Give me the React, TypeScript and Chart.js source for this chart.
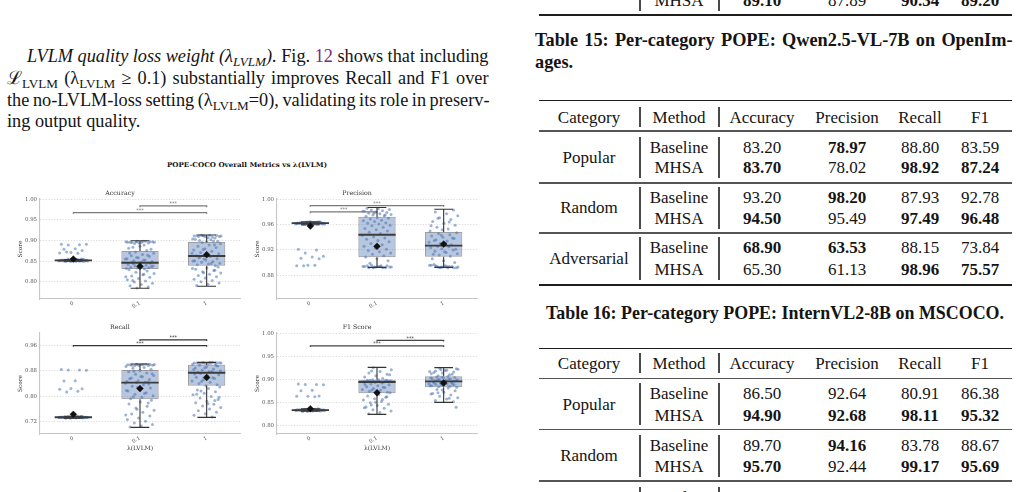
import React, { useEffect, useLayoutEffect, useRef } from "react";
import { Chart, registerables } from "chart.js";

Chart.register(...registerables);

const TEXT_FONT = "'Liberation Serif', 'DejaVu Serif', serif";
const PLOT_FONT = "'DejaVu Serif', 'Liberation Serif', serif";

// ---------------- Fig. 12: POPE-COCO overall metrics vs λ(LVLM) ----------------
const lambdaLabels = ["0", "0.1", "1"];

// Accuracy
const accuracyTicks = [0.8, 0.85, 0.9, 0.95, 1.0];
const accuracyQ1 = [0.851, 0.831, 0.839];
const accuracyMedian = [0.852, 0.846, 0.8625];
const accuracyQ3 = [0.853, 0.8745, 0.8965];
const accuracyLow = [0.85, 0.784, 0.789];
const accuracyHigh = [0.854, 0.8995, 0.9133];
const accuracyMean = [0.855, 0.8374, 0.8656];
const accuracyBrackets = [[0, 2, 0.968], [1, 2, 0.984]];
const accuracyRuns0 = [
  0.852, 0.85, 0.854, 0.852, 0.849, 0.853, 0.851, 0.85, 0.855, 0.852,
  0.853, 0.85, 0.852, 0.849, 0.851, 0.854, 0.851, 0.852, 0.855, 0.852,
  0.85, 0.853, 0.852, 0.849, 0.852, 0.854, 0.851, 0.852, 0.853, 0.851,
  0.85, 0.852, 0.853, 0.855, 0.852, 0.851, 0.853, 0.849, 0.854, 0.852,
  0.891, 0.89, 0.889, 0.891, 0.88, 0.879, 0.876, 0.871, 0.87, 0.869, 0.872,
];
const accuracyRuns01 = [
  0.897, 0.896, 0.898, 0.895, 0.897, 0.894, 0.896, 0.898, 0.893, 0.897, 0.895, 0.896, 0.894, 0.898, 0.897,
  0.889, 0.884, 0.879, 0.886, 0.881, 0.876,
  0.872, 0.869, 0.866, 0.863, 0.861, 0.858, 0.856, 0.853, 0.851, 0.849, 0.847, 0.87, 0.864, 0.859, 0.855, 0.852, 0.848,
  0.845, 0.843, 0.842, 0.84, 0.839, 0.838, 0.836, 0.835, 0.834, 0.833, 0.832, 0.831, 0.844, 0.837, 0.841,
  0.829, 0.826, 0.823, 0.82, 0.817, 0.814, 0.811, 0.808, 0.805, 0.802, 0.799, 0.796, 0.793, 0.79, 0.787, 0.785, 0.812, 0.818, 0.803,
];
const accuracyRuns1 = [
  0.912, 0.911, 0.913, 0.91, 0.912, 0.909, 0.911, 0.908, 0.913, 0.91, 0.907, 0.912, 0.906, 0.911,
  0.904, 0.902, 0.9, 0.898, 0.897, 0.903, 0.899,
  0.895, 0.892, 0.889, 0.886, 0.883, 0.88, 0.877, 0.874, 0.871, 0.868, 0.865, 0.863, 0.89, 0.878, 0.869,
  0.861, 0.858, 0.856, 0.853, 0.851, 0.849, 0.847, 0.845, 0.843, 0.841, 0.839, 0.855, 0.85, 0.844, 0.86,
  0.836, 0.833, 0.83, 0.827, 0.824, 0.821, 0.818, 0.815, 0.812, 0.809, 0.806, 0.803, 0.8, 0.797, 0.794, 0.791, 0.828, 0.822, 0.832,
];

// Precision
const precisionTicks = [0.88, 0.92, 0.96, 1.0];
const precisionQ1 = [0.9608, 0.9083, 0.9093];
const precisionMedian = [0.9622, 0.944, 0.9267];
const precisionQ3 = [0.9632, 0.9725, 0.9483];
const precisionLow = [0.9598, 0.8925, 0.8925];
const precisionHigh = [0.9645, 0.987, 0.9842];
const precisionMean = [0.9578, 0.9257, 0.9293];
const precisionBrackets = [[0, 2, 0.99], [0, 1, 0.98]];
const precisionRuns0 = [
  0.962, 0.961, 0.963, 0.962, 0.964, 0.961, 0.962, 0.963, 0.96, 0.962,
  0.963, 0.962, 0.961, 0.964, 0.962, 0.963, 0.961, 0.962, 0.965, 0.962,
  0.961, 0.963, 0.962, 0.96, 0.962, 0.964, 0.961, 0.962, 0.963, 0.962,
  0.961, 0.962, 0.963, 0.964, 0.962, 0.961, 0.963, 0.96, 0.962, 0.963,
  0.921, 0.92, 0.915, 0.91, 0.909, 0.907, 0.906, 0.896, 0.895, 0.896, 0.895,
];
const precisionRuns01 = [
  0.892, 0.893, 0.894, 0.892, 0.895, 0.893, 0.894, 0.892, 0.896, 0.893, 0.894, 0.895, 0.892, 0.893, 0.894, 0.895,
  0.899, 0.903, 0.906,
  0.909, 0.911, 0.913, 0.915, 0.917, 0.919, 0.921, 0.923, 0.926, 0.928, 0.93, 0.933, 0.935, 0.937, 0.939, 0.941, 0.943,
  0.946, 0.948, 0.95, 0.952, 0.954, 0.956, 0.958, 0.959, 0.961, 0.962, 0.963, 0.965, 0.966, 0.967, 0.969, 0.97, 0.971,
  0.973, 0.974, 0.975, 0.976, 0.977, 0.978, 0.979, 0.98, 0.981, 0.982, 0.983, 0.984, 0.985, 0.986, 0.975, 0.978, 0.981,
];
const precisionRuns1 = [
  0.892, 0.893, 0.894, 0.895, 0.892, 0.893, 0.896, 0.894, 0.893, 0.892, 0.895, 0.897, 0.894, 0.893, 0.896, 0.892, 0.894,
  0.9, 0.903, 0.906,
  0.91, 0.912, 0.914, 0.916, 0.918, 0.92, 0.922, 0.924, 0.925, 0.926, 0.921, 0.917, 0.913,
  0.928, 0.93, 0.932, 0.934, 0.936, 0.938, 0.94, 0.942, 0.944, 0.946, 0.947, 0.931, 0.935, 0.939, 0.943,
  0.95, 0.953, 0.956, 0.959, 0.962, 0.965, 0.968, 0.971, 0.974, 0.977, 0.98, 0.983, 0.952, 0.958, 0.964, 0.97,
];

// Recall
const recallTicks = [0.72, 0.8, 0.88, 0.96];
const recallQ1 = [0.7318, 0.79, 0.8325];
const recallMedian = [0.733, 0.843, 0.874];
const recallQ3 = [0.7342, 0.8825, 0.8995];
const recallLow = [0.7298, 0.701, 0.7327];
const recallHigh = [0.7358, 0.9017, 0.9068];
const recallMean = [0.7423, 0.824, 0.859];
const recallBrackets = [[0, 2, 0.96], [1, 2, 0.978]];
const recallRuns0 = [
  0.733, 0.732, 0.734, 0.733, 0.731, 0.734, 0.733, 0.732, 0.735, 0.733,
  0.734, 0.732, 0.733, 0.73, 0.733, 0.735, 0.732, 0.733, 0.736, 0.733,
  0.732, 0.734, 0.733, 0.731, 0.733, 0.735, 0.732, 0.733, 0.734, 0.733,
  0.732, 0.733, 0.734, 0.736, 0.733, 0.732, 0.734, 0.73, 0.733, 0.734,
  0.884, 0.883, 0.883, 0.882, 0.849, 0.848, 0.823, 0.824, 0.822, 0.815, 0.813,
];
const recallRuns01 = [
  0.901, 0.9, 0.899, 0.898, 0.9, 0.897, 0.899, 0.901, 0.896, 0.898, 0.9, 0.899, 0.897, 0.901,
  0.894, 0.891, 0.888, 0.885,
  0.881, 0.877, 0.873, 0.869, 0.865, 0.861, 0.857, 0.853, 0.849, 0.846, 0.844, 0.879, 0.871, 0.862, 0.855, 0.845, 0.843,
  0.841, 0.836, 0.831, 0.826, 0.821, 0.816, 0.811, 0.806, 0.801, 0.796, 0.792, 0.838, 0.828, 0.818, 0.808, 0.798,
  0.787, 0.781, 0.775, 0.768, 0.762, 0.755, 0.749, 0.743, 0.737, 0.731, 0.726, 0.72, 0.715, 0.71, 0.705, 0.702, 0.778, 0.758, 0.74,
];
const recallRuns1 = [
  0.906, 0.905, 0.907, 0.904, 0.906, 0.903, 0.905, 0.907, 0.904, 0.906, 0.902, 0.905, 0.903, 0.906, 0.901, 0.904,
  0.898, 0.895, 0.892, 0.889, 0.886, 0.883, 0.88, 0.877, 0.875, 0.897, 0.89, 0.884, 0.878,
  0.872, 0.868, 0.864, 0.86, 0.856, 0.852, 0.848, 0.844, 0.84, 0.836, 0.833, 0.87, 0.858, 0.846,
  0.829, 0.824, 0.819, 0.814, 0.809, 0.804, 0.799, 0.794, 0.789, 0.784, 0.779, 0.774, 0.769, 0.764, 0.759, 0.754, 0.749, 0.744, 0.739, 0.734, 0.816, 0.796, 0.776, 0.806, 0.786,
];

// F1 Score
const f1Ticks = [0.8, 0.85, 0.9, 0.95, 1.0];
const f1Q1 = [0.8332, 0.8705, 0.8836];
const f1Median = [0.8342, 0.8952, 0.8967];
const f1Q3 = [0.8352, 0.9002, 0.9076];
const f1Low = [0.8315, 0.8247, 0.8509];
const f1High = [0.8368, 0.927, 0.9265];
const f1Mean = [0.8369, 0.8718, 0.893];
const f1Brackets = [[0, 2, 0.974], [1, 2, 0.986]];
const f1Runs0 = [
  0.834, 0.833, 0.835, 0.834, 0.832, 0.835, 0.834, 0.833, 0.836, 0.834,
  0.835, 0.833, 0.834, 0.831, 0.834, 0.836, 0.833, 0.834, 0.837, 0.834,
  0.833, 0.835, 0.834, 0.832, 0.834, 0.836, 0.833, 0.834, 0.835, 0.834,
  0.833, 0.834, 0.835, 0.837, 0.834, 0.833, 0.835, 0.831, 0.834, 0.835,
  0.891, 0.89, 0.89, 0.889, 0.877, 0.876, 0.865, 0.864, 0.864, 0.863,
];
const f1Runs01 = [
  0.926, 0.922, 0.918, 0.915, 0.912, 0.909, 0.906, 0.903, 0.919, 0.911,
  0.9, 0.899, 0.898, 0.897, 0.896, 0.895, 0.899, 0.898, 0.897, 0.896, 0.895, 0.9, 0.898, 0.897, 0.896, 0.899, 0.894, 0.895,
  0.893, 0.891, 0.889, 0.887, 0.885, 0.883, 0.881, 0.879, 0.877, 0.875, 0.873, 0.871, 0.89, 0.884, 0.878, 0.872,
  0.868, 0.865, 0.862, 0.859, 0.856, 0.853, 0.85, 0.847, 0.844, 0.841, 0.838, 0.835, 0.832, 0.829, 0.826, 0.863, 0.851, 0.839, 0.857, 0.845,
];
const f1Runs1 = [
  0.925, 0.923, 0.921, 0.919, 0.917, 0.915, 0.913, 0.911, 0.909, 0.924, 0.92, 0.916, 0.912, 0.922, 0.918,
  0.907, 0.906, 0.905, 0.904, 0.903, 0.902, 0.901, 0.9, 0.899, 0.898, 0.897, 0.906, 0.904, 0.902, 0.9, 0.898,
  0.896, 0.895, 0.894, 0.893, 0.892, 0.891, 0.89, 0.889, 0.888, 0.887, 0.886, 0.885, 0.884, 0.895, 0.893, 0.891, 0.889, 0.887,
  0.882, 0.879, 0.876, 0.873, 0.87, 0.867, 0.864, 0.861, 0.858, 0.855, 0.852, 0.878, 0.869, 0.86, 0.872, 0.84,
];

// ---------------- Tables ----------------
const tableHeaders = ["Category", "Method", "Accuracy", "Precision", "Recall", "F1"];
const popeCategories = ["Popular", "Random", "Adversarial"];
const methodNames = ["Baseline", "MHSA"];

// closing row of the table above Table 15
const prevTailScores = [89.1, 87.89, 90.34, 89.2];
const prevTailBest = [1, 0, 1, 1];

// Table 15: Qwen2.5-VL-7B on OpenImages
const qwenScores = [
  [83.2, 78.97, 88.8, 83.59],
  [83.7, 78.02, 98.92, 87.24],
  [93.2, 98.2, 87.93, 92.78],
  [94.5, 95.49, 97.49, 96.48],
  [68.9, 63.53, 88.15, 73.84],
  [65.3, 61.13, 98.96, 75.57],
];
const qwenBest = [
  [0, 1, 0, 0],
  [1, 0, 1, 1],
  [0, 1, 0, 0],
  [1, 0, 1, 1],
  [1, 1, 0, 0],
  [0, 0, 1, 1],
];

// Table 16: InternVL2-8B on MSCOCO
const internScores = [
  [86.5, 92.64, 80.91, 86.38],
  [94.9, 92.68, 98.11, 95.32],
  [89.7, 94.16, 83.78, 88.67],
  [95.7, 92.44, 99.17, 95.69],
  [95.0, 96.1, 93.96, 94.6],
];
const internBest = [
  [0, 0, 0, 0],
  [1, 1, 1, 1],
  [0, 1, 0, 0],
  [1, 0, 1, 1],
  [0, 1, 0, 0],
];

// ---------------- Box-plot panels ----------------
type Panel = {
  title: string;
  ticks: number[];
  yMin: number;
  yMax: number;
  q1: number[];
  median: number[];
  q3: number[];
  low: number[];
  high: number[];
  mean: number[];
  runs: number[][];
  brackets: number[][];
  bracketColor: string;
  xTitle: boolean;
};

const panels: Panel[] = [
  {
    title: "Accuracy", ticks: accuracyTicks, yMin: 0.758, yMax: 1.001,
    q1: accuracyQ1, median: accuracyMedian, q3: accuracyQ3, low: accuracyLow, high: accuracyHigh, mean: accuracyMean,
    runs: [accuracyRuns0, accuracyRuns01, accuracyRuns1], brackets: accuracyBrackets, bracketColor: "#7a7a7a", xTitle: false,
  },
  {
    title: "Precision", ticks: precisionTicks, yMin: 0.8425, yMax: 1.0005,
    q1: precisionQ1, median: precisionMedian, q3: precisionQ3, low: precisionLow, high: precisionHigh, mean: precisionMean,
    runs: [precisionRuns0, precisionRuns01, precisionRuns1], brackets: precisionBrackets, bracketColor: "#7a7a7a", xTitle: false,
  },
  {
    title: "Recall", ticks: recallTicks, yMin: 0.68, yMax: 1.0,
    q1: recallQ1, median: recallMedian, q3: recallQ3, low: recallLow, high: recallHigh, mean: recallMean,
    runs: [recallRuns0, recallRuns01, recallRuns1], brackets: recallBrackets, bracketColor: "#333333", xTitle: true,
  },
  {
    title: "F1 Score", ticks: f1Ticks, yMin: 0.782, yMax: 1.002,
    q1: f1Q1, median: f1Median, q3: f1Q3, low: f1Low, high: f1High, mean: f1Mean,
    runs: [f1Runs0, f1Runs01, f1Runs1], brackets: f1Brackets, bracketColor: "#444444", xTitle: true,
  },
];

const BOX_WIDTH = 0.56;
const CAP_HALF = 0.14;
// horizontal strip-plot spread, derived from the point's index within its group
const jitter = (k: number) => (((k * 0.6180339887 + 0.37) % 1) - 0.5) * 0.44;

const starsPlugin = {
  id: "sigStars",
  afterDatasetsDraw(chart: any, _args: any, opts: any) {
    const { ctx, scales } = chart;
    const xs = scales.x;
    const ys = scales.y;
    ctx.save();
    ctx.font = `5px ${PLOT_FONT}`;
    ctx.fillStyle = opts.color;
    ctx.textAlign = "center";
    ctx.textBaseline = "alphabetic";
    for (const [a, b, h] of opts.brackets) {
      ctx.fillText("***", xs.getPixelForValue((a + b) / 2), ys.getPixelForValue(h) - 0.8);
    }
    ctx.restore();
  },
};

function buildConfig(p: Panel): any {
  const medianSegs: any[] = [];
  const whiskerSegs: any[] = [];
  p.median.forEach((m, i) => {
    medianSegs.push({ x: i - BOX_WIDTH / 2, y: m }, { x: i + BOX_WIDTH / 2, y: m }, { x: i, y: null });
    whiskerSegs.push(
      { x: i, y: p.q3[i] }, { x: i, y: p.high[i] }, { x: i, y: null },
      { x: i - CAP_HALF, y: p.high[i] }, { x: i + CAP_HALF, y: p.high[i] }, { x: i, y: null },
      { x: i, y: p.q1[i] }, { x: i, y: p.low[i] }, { x: i, y: null },
      { x: i - CAP_HALF, y: p.low[i] }, { x: i + CAP_HALF, y: p.low[i] }, { x: i, y: null },
    );
  });
  const runPoints = p.runs.flatMap((vals, g) => vals.map((v, k) => ({ x: g + jitter(k), y: v })));
  const drop = (p.yMax - p.yMin) * 0.012;
  const bracketSets = p.brackets.map(([a, b, h]) => ({
    type: "line",
    data: [{ x: a, y: h - drop }, { x: a, y: h }, { x: b, y: h }, { x: b, y: h - drop }],
    borderColor: p.bracketColor,
    borderWidth: 1.2,
    pointRadius: 0,
    fill: false,
    order: 1,
  }));

  return {
    type: "bar",
    data: {
      datasets: [
        {
          type: "scatter",
          data: p.mean.map((m, i) => ({ x: i, y: m })),
          pointStyle: "rectRot",
          pointRadius: 3.4,
          backgroundColor: "#111111",
          borderColor: "#111111",
          borderWidth: 0.5,
          order: 0,
        },
        {
          type: "line",
          data: medianSegs,
          borderColor: "#3c3c3c",
          borderWidth: 1.8,
          pointRadius: 0,
          fill: false,
          spanGaps: false,
          order: 1,
        },
        {
          type: "line",
          data: whiskerSegs,
          borderColor: "#333333",
          borderWidth: 1.1,
          pointRadius: 0,
          fill: false,
          spanGaps: false,
          order: 1,
        },
        ...bracketSets,
        {
          type: "scatter",
          data: runPoints,
          pointRadius: 1.5,
          backgroundColor: "rgba(76,114,176,0.55)",
          borderWidth: 0,
          order: 2,
        },
        {
          type: "bar",
          data: p.q1.map((q, i) => ({ x: i, y: [q, p.q3[i]] })),
          backgroundColor: "rgba(76,114,176,0.4)",
          borderColor: "rgba(80,80,80,0.55)",
          borderWidth: 1,
          borderSkipped: false,
          barPercentage: BOX_WIDTH,
          categoryPercentage: 1,
          order: 3,
        },
      ],
    },
    options: {
      responsive: false,
      animation: false,
      events: [],
      layout: { padding: { left: 0, right: 10, top: 0, bottom: 0 } },
      plugins: {
        legend: { display: false },
        tooltip: { enabled: false },
        title: {
          display: true,
          text: p.title,
          color: "#333333",
          font: { family: PLOT_FONT, size: 6.3, weight: "normal", lineHeight: 1.2 },
          padding: { top: 5.5, bottom: 1.9 },
        },
        sigStars: { brackets: p.brackets, color: p.bracketColor },
      },
      scales: {
        x: {
          type: "linear",
          min: -0.5,
          max: 2.5,
          offset: false,
          afterBuildTicks: (s: any) => {
            s.ticks = lambdaLabels.map((_, i) => ({ value: i }));
          },
          afterFit: (s: any) => {
            s.height = p.xTitle ? 20 : 10;
          },
          grid: { display: false, offset: false, drawTicks: false, tickLength: 0 },
          border: { display: true, color: "#c6c6c6", width: 1.1 },
          ticks: {
            autoSkip: false,
            maxRotation: 30,
            minRotation: 30,
            padding: 1,
            color: "#555555",
            font: { family: PLOT_FONT, size: 5.4 },
            callback: (v: any) => lambdaLabels[v as number] ?? "",
          },
          title: {
            display: p.xTitle,
            text: "λ(LVLM)",
            color: "#333333",
            font: { family: PLOT_FONT, size: 6 },
            padding: { top: 0, bottom: 2.1 },
          },
        },
        y: {
          type: "linear",
          min: p.yMin,
          max: p.yMax,
          beginAtZero: false,
          afterBuildTicks: (s: any) => {
            s.ticks = p.ticks.map((v) => ({ value: v }));
          },
          afterFit: (s: any) => {
            s.width = 40;
          },
          grid: { color: "#d2d2d2", lineWidth: 0.8, drawTicks: false },
          border: { display: true, color: "#c6c6c6", width: 1.1, dash: [1.2, 1.6] },
          ticks: {
            padding: 3,
            color: "#555555",
            font: { family: PLOT_FONT, size: 5.4 },
            callback: (v: any) => Number(v).toFixed(2),
          },
          title: {
            display: true,
            text: "Score",
            color: "#333333",
            font: { family: PLOT_FONT, size: 5.8 },
            padding: { top: 17.2, bottom: 0 },
          },
        },
      },
    },
    plugins: [starsPlugin],
  };
}

function PanelChart({ panel, left, top, width, height }: { panel: Panel; left: number; top: number; width: number; height: number }) {
  const ref = useRef<HTMLCanvasElement>(null);
  useEffect(() => {
    if (!ref.current) return;
    const chart = new Chart(ref.current, buildConfig(panel));
    return () => chart.destroy();
  }, [panel]);
  return <canvas ref={ref} width={width} height={height} style={{ position: "absolute", left, top, width, height }} />;
}

// ---------------- Text helpers ----------------
type LineProps = {
  left: number;
  baseline: number;
  size: number;
  width?: number;
  mode?: "justify" | "fit";
  style?: React.CSSProperties;
  children: React.ReactNode;
};

function TextLine({ left, baseline, size, width, mode, style, children }: LineProps) {
  const ref = useRef<HTMLDivElement>(null);
  useLayoutEffect(() => {
    const el = ref.current;
    if (!el || !width || !mode) return;
    el.style.wordSpacing = "0px";
    el.style.transform = "none";
    const natural = el.getBoundingClientRect().width;
    if (mode === "justify") {
      const gaps = (el.textContent || "").split(" ").length - 1;
      if (gaps > 0) el.style.wordSpacing = `${(width - natural) / gaps}px`;
    } else {
      el.style.transform = `scaleX(${width / natural})`;
    }
  }, [width, mode]);
  return (
    <div
      ref={ref}
      style={{
        position: "absolute",
        left,
        top: baseline - 0.84 * size,
        fontSize: size,
        lineHeight: `${size}px`,
        whiteSpace: "pre",
        transformOrigin: "0 0",
        fontFamily: TEXT_FONT,
        color: "#141414",
        ...style,
      }}
    >
      {children}
    </div>
  );
}

const Sub = ({ children }: { children: React.ReactNode }) => (
  <span style={{ fontSize: "0.72em", position: "relative", top: "0.3em" }}>{children}</span>
);

const CELL = 17;
function Cell({ cx, cy, bold, children }: { cx: number; cy: number; bold?: boolean; children: React.ReactNode }) {
  return (
    <div
      style={{
        position: "absolute",
        left: cx - 70,
        width: 140,
        top: cy - CELL / 2,
        height: CELL,
        lineHeight: `${CELL}px`,
        fontSize: CELL,
        textAlign: "center",
        fontFamily: TEXT_FONT,
        fontWeight: bold ? 700 : 400,
        color: "#141414",
        whiteSpace: "pre",
      }}
    >
      {children}
    </div>
  );
}

const RULE_LEFT = 539;
const RULE_WIDTH = 473;
function Rule({ y, h, color }: { y: number; h: number; color: string }) {
  return <div style={{ position: "absolute", left: RULE_LEFT, width: RULE_WIDTH, top: y - h / 2, height: h, background: color }} />;
}
function VLine({ x, y1, y2 }: { x: number; y1: number; y2: number }) {
  return <div style={{ position: "absolute", left: x - 0.6, width: 1.2, top: y1, height: y2 - y1, background: "#4a4a4a" }} />;
}

const COLS = [589, 679, 762, 847, 920, 980];
const VX = [640, 719];

function ScoreRow({ cy, method, scores, best }: { cy: number; method: string; scores: number[]; best: number[] }) {
  return (
    <>
      <Cell cx={COLS[1]} cy={cy}>{method}</Cell>
      {scores.map((s, j) => (
        <Cell key={j} cx={COLS[2 + j]} cy={cy} bold={!!best[j]}>
          {s.toFixed(2)}
        </Cell>
      ))}
    </>
  );
}

type TableLayout = { top: number; header: number; headRule: number; rows: number[]; groupRules: number[]; bottom?: number };

function ScoreTable({ layout, scores, best }: { layout: TableLayout; scores: number[][]; best: number[][] }) {
  const { top, header, headRule, rows, groupRules, bottom } = layout;
  return (
    <>
      <Rule y={top} h={1.6} color="#1e1e1e" />
      {tableHeaders.map((h, j) => (
        <Cell key={h} cx={COLS[j]} cy={header}>{h}</Cell>
      ))}
      {VX.map((x) => (
        <VLine key={x} x={x} y1={header - 10} y2={header + 9.5} />
      ))}
      <Rule y={headRule} h={1.1} color="#555555" />
      {popeCategories.map((cat, g) => {
        const r0 = rows[2 * g];
        const r1 = rows[2 * g + 1] ?? r0 + 21.5;
        if (r0 === undefined) return null;
        return (
          <React.Fragment key={cat}>
            <Cell cx={COLS[0]} cy={(r0 + r1) / 2}>{cat}</Cell>
            {VX.map((x) => (
              <VLine key={x} x={x} y1={r0 - 10.5} y2={r1 + 10.5} />
            ))}
            {[0, 1].map((m) =>
              scores[2 * g + m] ? (
                <ScoreRow key={m} cy={m === 0 ? r0 : r1} method={methodNames[m]} scores={scores[2 * g + m]} best={best[2 * g + m]} />
              ) : null,
            )}
          </React.Fragment>
        );
      })}
      {groupRules.map((y) => (
        <Rule key={y} y={y} h={1.1} color="#555555" />
      ))}
      {bottom !== undefined && <Rule y={bottom} h={1.6} color="#1e1e1e" />}
    </>
  );
}

const table15Layout: TableLayout = {
  top: 100.7, header: 117, headRule: 131, rows: [147, 167.5, 197, 218, 247.5, 269.5], groupRules: [183, 233], bottom: 285,
};
const table16Layout: TableLayout = {
  top: 348.3, header: 363, headRule: 378.3, rows: [393.3, 415, 445, 466, 497], groupRules: [429.3, 481],
};

export default function App() {
  return (
    <div
      style={{
        position: "fixed",
        left: 0,
        top: 0,
        width: 1024,
        height: 492,
        overflow: "hidden",
        background: "#ffffff",
      }}
    >
      {/* left column: paragraph */}
      <TextLine left={27} baseline={62.3} size={18.3} width={461.5} mode="justify">
        <span style={{ fontStyle: "italic" }}>
          LVLM quality loss weight (λ<Sub>LVLM</Sub>).
        </span>
        {" Fig. "}
        <span style={{ color: "#7b2a83" }}>12</span>
        {" shows that including"}
      </TextLine>
      <TextLine left={7} baseline={84} size={18.3} width={481.5} mode="justify">
        ℒ<Sub>LVLM</Sub>
        {" (λ"}
        <Sub>LVLM</Sub>
        {" ≥ 0.1) substantially improves Recall and F1 over"}
      </TextLine>
      <TextLine left={7} baseline={106} size={18.3} width={482.5} mode="justify">
        the no-LVLM-loss setting (λ<Sub>LVLM</Sub>=0), validating its role in preserv-
      </TextLine>
      <TextLine left={7} baseline={127.7} size={18.3}>
        ing output quality.
      </TextLine>

      {/* Fig. 12 */}
      <TextLine left={167} baseline={167.3} size={6.6} width={160} mode="fit" style={{ fontFamily: PLOT_FONT, fontWeight: 700, color: "#111" }}>
        POPE-COCO Overall Metrics vs λ(LVLM)
      </TextLine>
      <PanelChart panel={panels[0]} left={0} top={184} width={250} height={125} />
      <PanelChart panel={panels[1]} left={237} top={184} width={250} height={125} />
      <PanelChart panel={panels[2]} left={0} top={318} width={250} height={136} />
      <PanelChart panel={panels[3]} left={237} top={318} width={250} height={136} />

      {/* right column: end of previous table */}
      <Cell cx={COLS[1]} cy={0}>MHSA</Cell>
      {prevTailScores.map((s, j) => (
        <Cell key={j} cx={COLS[2 + j]} cy={0} bold={!!prevTailBest[j]}>
          {s.toFixed(2)}
        </Cell>
      ))}
      {VX.map((x) => (
        <VLine key={x} x={x} y1={0} y2={10.5} />
      ))}
      <Rule y={15} h={1.6} color="#1e1e1e" />

      {/* Table 15 */}
      <TextLine left={535} baseline={46.7} size={18.3} width={477.5} mode="justify" style={{ fontWeight: 700 }}>
        Table 15: Per-category POPE: Qwen2.5-VL-7B on OpenIm-
      </TextLine>
      <TextLine left={535} baseline={68.3} size={18.3} style={{ fontWeight: 700 }}>
        ages.
      </TextLine>
      <ScoreTable layout={table15Layout} scores={qwenScores} best={qwenBest} />

      {/* Table 16 */}
      <TextLine left={546} baseline={319.7} size={18.3} width={458} mode="fit" style={{ fontWeight: 700 }}>
        Table 16: Per-category POPE: InternVL2-8B on MSCOCO.
      </TextLine>
      <ScoreTable layout={table16Layout} scores={internScores} best={internBest} />
    </div>
  );
}
